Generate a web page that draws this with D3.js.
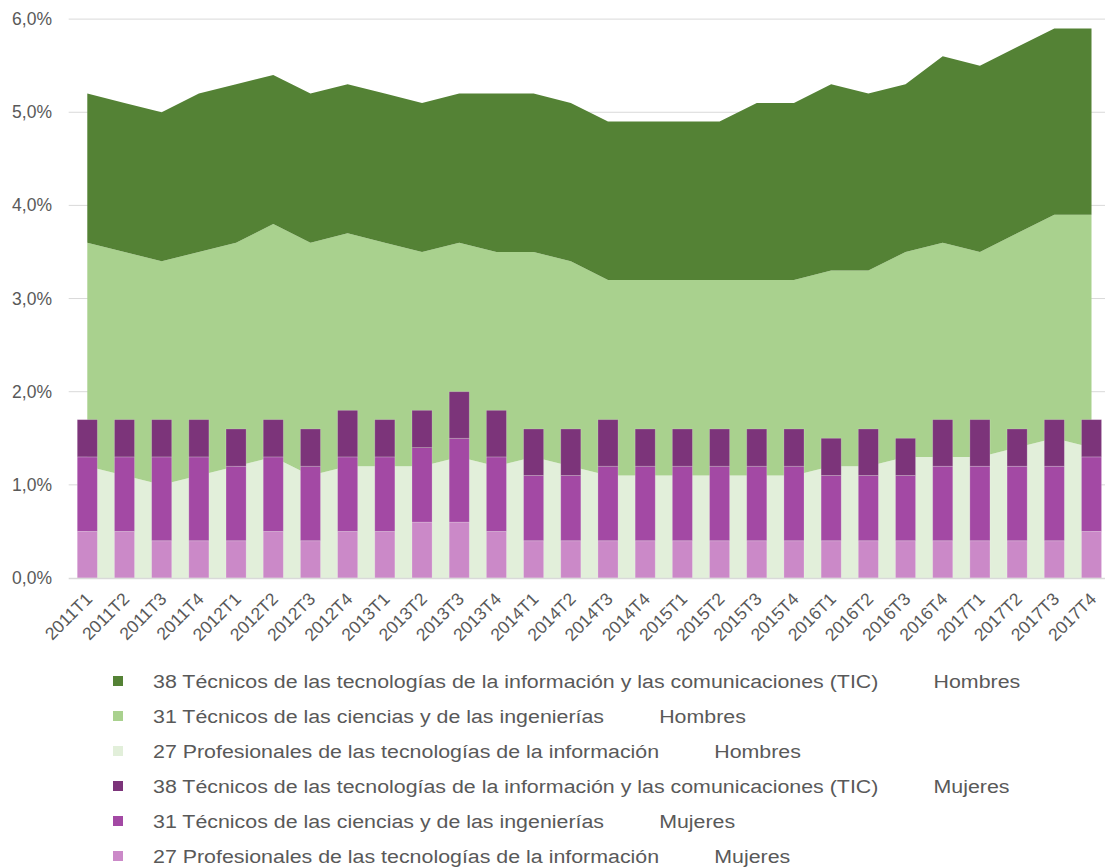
<!DOCTYPE html>
<html><head><meta charset="utf-8">
<script src="https://cdn.jsdelivr.net/npm/d3@7"></script>
<style>
body{margin:0;background:#fff;}
svg{display:block;}
text{font-family:"Liberation Sans",Arial,sans-serif;fill:#595959;}
</style>
</head><body>
<svg id="chart" width="1105" height="868"></svg>
<script>
const categories = ["2011T1","2011T2","2011T3","2011T4","2012T1","2012T2","2012T3","2012T4",
  "2013T1","2013T2","2013T3","2013T4","2014T1","2014T2","2014T3","2014T4",
  "2015T1","2015T2","2015T3","2015T4","2016T1","2016T2","2016T3","2016T4",
  "2017T1","2017T2","2017T3","2017T4"];

// Hombres (stacked areas), % of employment
const hombres27 = [1.2,1.1,1.0,1.1,1.2,1.3,1.1,1.2,1.2,1.2,1.3,1.2,1.3,1.2,1.1,1.1,1.1,1.1,1.1,1.1,1.2,1.2,1.3,1.3,1.3,1.4,1.5,1.4];
const hombres31 = [2.4,2.4,2.4,2.4,2.4,2.5,2.5,2.5,2.4,2.3,2.3,2.3,2.2,2.2,2.1,2.1,2.1,2.1,2.1,2.1,2.1,2.1,2.2,2.3,2.2,2.3,2.4,2.5];
const hombres38 = [1.6,1.6,1.6,1.7,1.7,1.6,1.6,1.6,1.6,1.6,1.6,1.7,1.7,1.7,1.7,1.7,1.7,1.7,1.9,1.9,2.0,1.9,1.8,2.0,2.0,2.0,2.0,2.0];

// Mujeres (stacked bars)
const mujeres27 = [0.5,0.5,0.4,0.4,0.4,0.5,0.4,0.5,0.5,0.6,0.6,0.5,0.4,0.4,0.4,0.4,0.4,0.4,0.4,0.4,0.4,0.4,0.4,0.4,0.4,0.4,0.4,0.5];
const mujeres31 = [0.8,0.8,0.9,0.9,0.8,0.8,0.8,0.8,0.8,0.8,0.9,0.8,0.7,0.7,0.8,0.8,0.8,0.8,0.8,0.8,0.7,0.7,0.7,0.8,0.8,0.8,0.8,0.8];
const mujeres38 = [0.4,0.4,0.4,0.4,0.4,0.4,0.4,0.5,0.4,0.4,0.5,0.5,0.5,0.5,0.5,0.4,0.4,0.4,0.4,0.4,0.4,0.5,0.4,0.5,0.5,0.4,0.5,0.4];

const yTicks = [0,1,2,3,4,5,6];

const legendNames = [
  "38 Técnicos de las tecnologías de la información y las comunicaciones (TIC)",
  "31 Técnicos de las ciencias y de las ingenierías",
  "27 Profesionales de las tecnologías de la información",
  "38 Técnicos de las tecnologías de la información y las comunicaciones (TIC)",
  "31 Técnicos de las ciencias y de las ingenierías",
  "27 Profesionales de las tecnologías de la información"
];
const legendSex = ["Hombres","Hombres","Hombres","Mujeres","Mujeres","Mujeres"];
const legendColors = ["#548235","#A9D18E","#E2EFDA","#7C347A","#A349A4","#CB89C8"];

const svg = d3.select("#chart");

const x = d3.scaleBand().domain(categories).range([68.7, 1110.1]).paddingInner(0.46).paddingOuter(0.23);
const cx = d => x(d) + x.bandwidth()/2;
const y = d3.scaleLinear().domain([0,6]).range([578, 19.1]);

// gridlines
svg.append("g").selectAll("line").data(yTicks.filter(t => t>0)).join("line")
  .attr("x1", 68.7).attr("x2", 1110).attr("y1", d=>y(d)).attr("y2", d=>y(d))
  .attr("stroke","#D9D9D9").attr("stroke-width",1);

// y labels
svg.append("g").selectAll("text").data(yTicks).join("text")
  .attr("x", 52).attr("y", d=>y(d)+6)
  .attr("text-anchor","end").style("font-size","17.5px")
  .text(d => d.toFixed(1).replace(".",",") + "%");

// areas (Hombres)
const hRows = categories.map((c,i)=>({cat:c, h27:hombres27[i], h31:hombres31[i], h38:hombres38[i]}));
const hStack = d3.stack().keys(["h27","h31","h38"])(hRows);
const area = d3.area().x(d=>cx(d.data.cat)).y0(d=>y(d[0])).y1(d=>y(d[1]));
svg.append("g").selectAll("path").data(hStack).join("path")
  .attr("d", area).attr("fill", (d,i)=>legendColors[2-i]);

// bars (Mujeres)
const mRows = categories.map((c,i)=>({cat:c, m27:mujeres27[i], m31:mujeres31[i], m38:mujeres38[i]}));
const mStack = d3.stack().keys(["m27","m31","m38"])(mRows);
const barColors = [legendColors[5], legendColors[4], legendColors[3]];
svg.append("g").selectAll("g").data(mStack).join("g")
  .attr("fill",(d,i)=>barColors[i])
  .selectAll("rect").data(d=>d).join("rect")
  .attr("x", d=>x(d.data.cat)).attr("width", x.bandwidth())
  .attr("y", d=>y(d[1])).attr("height", d=>y(d[0])-y(d[1]))
  .attr("stroke","rgba(255,255,255,0.25)").attr("stroke-width",0.8);

// baseline
svg.append("line").attr("x1",68.7).attr("x2",1110).attr("y1",y(0)+0.5).attr("y2",y(0)+0.5)
  .attr("stroke","#D9D9D9").attr("stroke-width",1.5);

// x labels
svg.append("g").selectAll("text").data(categories).join("text")
  .attr("text-anchor","end").style("font-size","17.5px")
  .attr("transform", d=>`translate(${cx(d)+6},${600}) rotate(-45)`)
  .text(d=>d);

// legend
const leg = svg.append("g").selectAll("g").data(legendNames).join("g")
  .attr("transform",(d,i)=>`translate(0,${688 + i*35})`);
leg.append("rect").attr("x",113).attr("y",-12).attr("width",10).attr("height",10)
  .attr("fill",(d,i)=>legendColors[i]);
const lt = leg.append("text").attr("transform","translate(153,0) scale(1.125,1)")
  .style("font-size","19px");
lt.append("tspan").text(d=>d);
lt.append("tspan").attr("dx",49).text((d,i)=>legendSex[i]);
</script>
</body></html>
